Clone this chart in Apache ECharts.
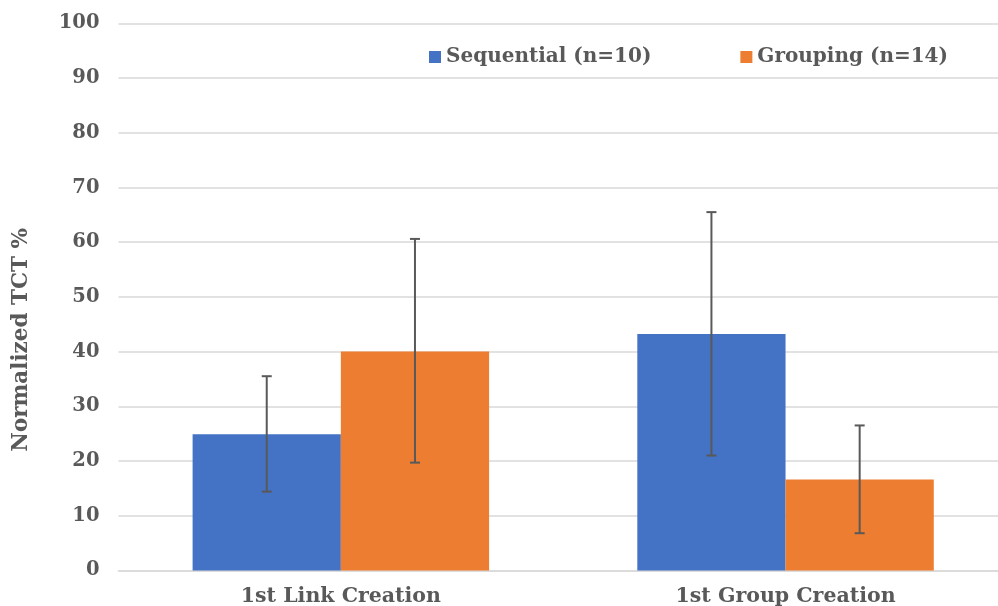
<!DOCTYPE html>
<html><head><meta charset="utf-8">
<script src="https://cdn.jsdelivr.net/npm/echarts@6/dist/echarts.min.js"></script>
<style>html,body{margin:0;padding:0;background:#fff}#c{width:998px;height:606px}</style>
</head><body><div id="c"></div>
<script>
var categories = ['1st Link Creation', '1st Group Creation'];
var seriesNames = ['Sequential (n=10)', 'Grouping (n=14)'];
var seqValues = [24.9, 43.2];
var seqErrLow = [14.4, 21.0];
var seqErrHigh = [35.5, 65.5];
var grpValues = [40.0, 16.6];
var grpErrLow = [19.7, 6.8];
var grpErrHigh = [60.6, 26.5];
var yTicks = [0, 10, 20, 30, 40, 50, 60, 70, 80, 90, 100];

var FONT = 'DejaVu Serif';
var TXT = '#595959';

function errSeries(low, high, side) {
  return {
    type: 'custom',
    z: 10,
    silent: true,
    data: categories.map(function (c, i) { return [i, low[i], high[i]]; }),
    encode: { x: 0, y: [1, 2] },
    renderItem: function (params, api) {
      var i = api.value(0);
      var lo = api.coord([i, api.value(1)]);
      var hi = api.coord([i, api.value(2)]);
      var cw = api.size([1, 0])[0];
      var x = lo[0] + side * cw / 6;
      var cap = 5;
      var st = { stroke: '#595959', lineWidth: 2 };
      return {
        type: 'group',
        children: [
          { type: 'line', shape: { x1: x, y1: lo[1], x2: x, y2: hi[1] }, style: st },
          { type: 'line', shape: { x1: x - cap, y1: lo[1], x2: x + cap, y2: lo[1] }, style: st },
          { type: 'line', shape: { x1: x - cap, y1: hi[1], x2: x + cap, y2: hi[1] }, style: st }
        ]
      };
    }
  };
}

var chart = echarts.init(document.getElementById('c'), null, { renderer: 'canvas' });
chart.setOption({
  animation: false,
  textStyle: { fontFamily: FONT, fontWeight: 'bold', color: TXT },
  grid: { left: 118.5, width: 889.4, top: 23.4, height: 547, containLabel: false, outerBoundsMode: 'none' },
  legend: {
    data: seriesNames,
    left: 424, top: 42,
    icon: 'rect', itemWidth: 12, itemHeight: 12, itemGap: 89,
    textStyle: { fontFamily: FONT, fontWeight: 'bold', fontSize: 20, color: TXT }
  },
  graphic: [{
    type: 'text', left: 10, top: 228, rotation: Math.PI / 2,
    style: { text: 'Normalized TCT %', font: 'bold 21.5px "' + FONT + '"', fill: TXT }
  }],
  xAxis: {
    type: 'category', data: categories,
    axisLine: { lineStyle: { color: '#D9D9D9', width: 1.5 } },
    axisTick: { show: false },
    axisLabel: { fontFamily: FONT, fontWeight: 'bold', fontSize: 20.5, color: TXT, margin: 16 }
  },
  yAxis: {
    type: 'value', min: yTicks[0], max: yTicks[yTicks.length - 1], interval: 10,
    axisLine: { show: false }, axisTick: { show: false },
    splitLine: { lineStyle: { color: '#D9D9D9', width: 1.5 } },
    axisLabel: { fontFamily: FONT, fontWeight: 'bold', fontSize: 19.5, color: TXT, margin: 19 }
  },
  series: [
    { name: seriesNames[0], type: 'bar', data: seqValues, barGap: 0, barCategoryGap: '33.33%',
      itemStyle: { color: '#4472C4' } },
    { name: seriesNames[1], type: 'bar', data: grpValues, barGap: 0, barCategoryGap: '33.33%',
      itemStyle: { color: '#ED7D31' } },
    errSeries(seqErrLow, seqErrHigh, -1),
    errSeries(grpErrLow, grpErrHigh, 1)
  ]
});
</script></body></html>
